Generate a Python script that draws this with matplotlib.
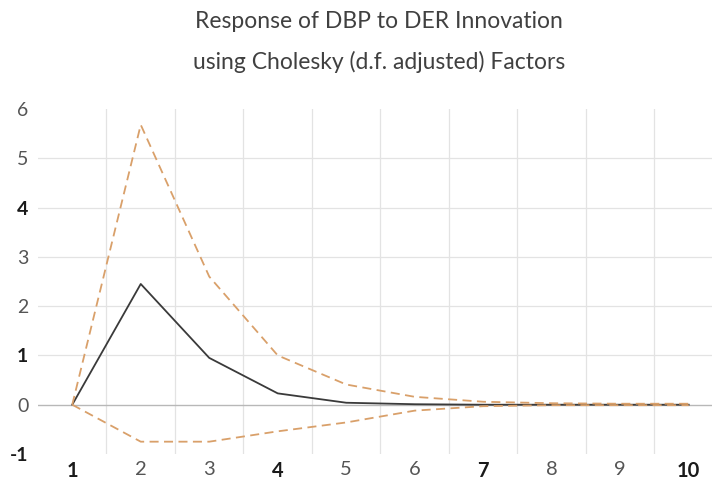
import matplotlib
matplotlib.use("Agg")
import matplotlib.pyplot as plt

periods = [1, 2, 3, 4, 5, 6, 7, 8, 9, 10]
response = [0.0, 2.45, 0.95, 0.23, 0.04, 0.01, 0.0, 0.0, 0.0, 0.0]
upper = [0.0, 5.68, 2.6, 1.0, 0.41, 0.16, 0.06, 0.03, 0.02, 0.02]
lower = [0.0, -0.75, -0.75, -0.54, -0.36, -0.12, -0.03, -0.01, -0.01, -0.01]
y_ticks = [-1, 0, 1, 2, 3, 4, 5, 6]
x_labels = ["1", "2", "3", "4", "5", "6", "7", "8", "9", "10"]
title_lines = ["Response of DBP to DER Innovation", "using Cholesky (d.f. adjusted) Factors"]

plt.rcParams['font.family'] = ['Lato', 'DejaVu Sans']

fig = plt.figure(figsize=(7.12, 4.82), dpi=100)
W, H = 712, 482
left, right = 38, 712
top, bottom = 109, 454
ax = fig.add_axes([left / W, 1 - bottom / H, (right - left) / W, (bottom - top) / H])

ax.set_xlim(0.5, 10.34)
ax.set_ylim(-1, 6)

for xg in [p + 0.5 for p in periods[:-1]]:
    ax.axvline(xg, color='#e3e3e3', lw=0.9, zorder=0)
for yg in [1, 2, 3, 4, 5]:
    ax.axhline(yg, color='#e3e3e3', lw=0.9, zorder=0)
ax.axhline(0, color='#b8b8b8', lw=1.0, zorder=1)

ax.plot(periods, upper, color='#d9a06a', lw=1.3, ls=(0, (5, 3)), zorder=3)
ax.plot(periods, lower, color='#d9a06a', lw=1.3, ls=(0, (5, 3)), zorder=3)
ax.plot(periods, response, color='#3a3a3a', lw=1.3, zorder=2)

for s in ax.spines.values():
    s.set_visible(False)
ax.tick_params(length=0)
ax.set_xticks(periods)
ax.set_xticklabels(x_labels, fontsize=14.5)
ax.set_yticks(y_ticks)
ax.set_yticklabels([str(v) for v in y_ticks], fontsize=14)
ax.tick_params(axis='x', pad=5)
ax.tick_params(axis='y', pad=7)

dark_x = {"1", "4", "7", "10"}
for lab in ax.get_xticklabels():
    if lab.get_text() in dark_x:
        lab.set_color('#1a1a1a')
        lab.set_fontweight('bold')
    else:
        lab.set_color('#555555')
dark_y = {"4", "1", "-1"}
for lab in ax.get_yticklabels():
    if lab.get_text() in dark_y:
        lab.set_color('#1a1a1a')
        lab.set_fontweight('bold')
    else:
        lab.set_color('#555555')

fig.text(379 / W, 1 - 21 / H, title_lines[0],
         ha='center', va='center', fontsize=16.5, color='#404040')
fig.text(379 / W, 1 - 62 / H, title_lines[1],
         ha='center', va='center', fontsize=16.5, color='#404040')

fig.savefig("out.png", dpi=100)
